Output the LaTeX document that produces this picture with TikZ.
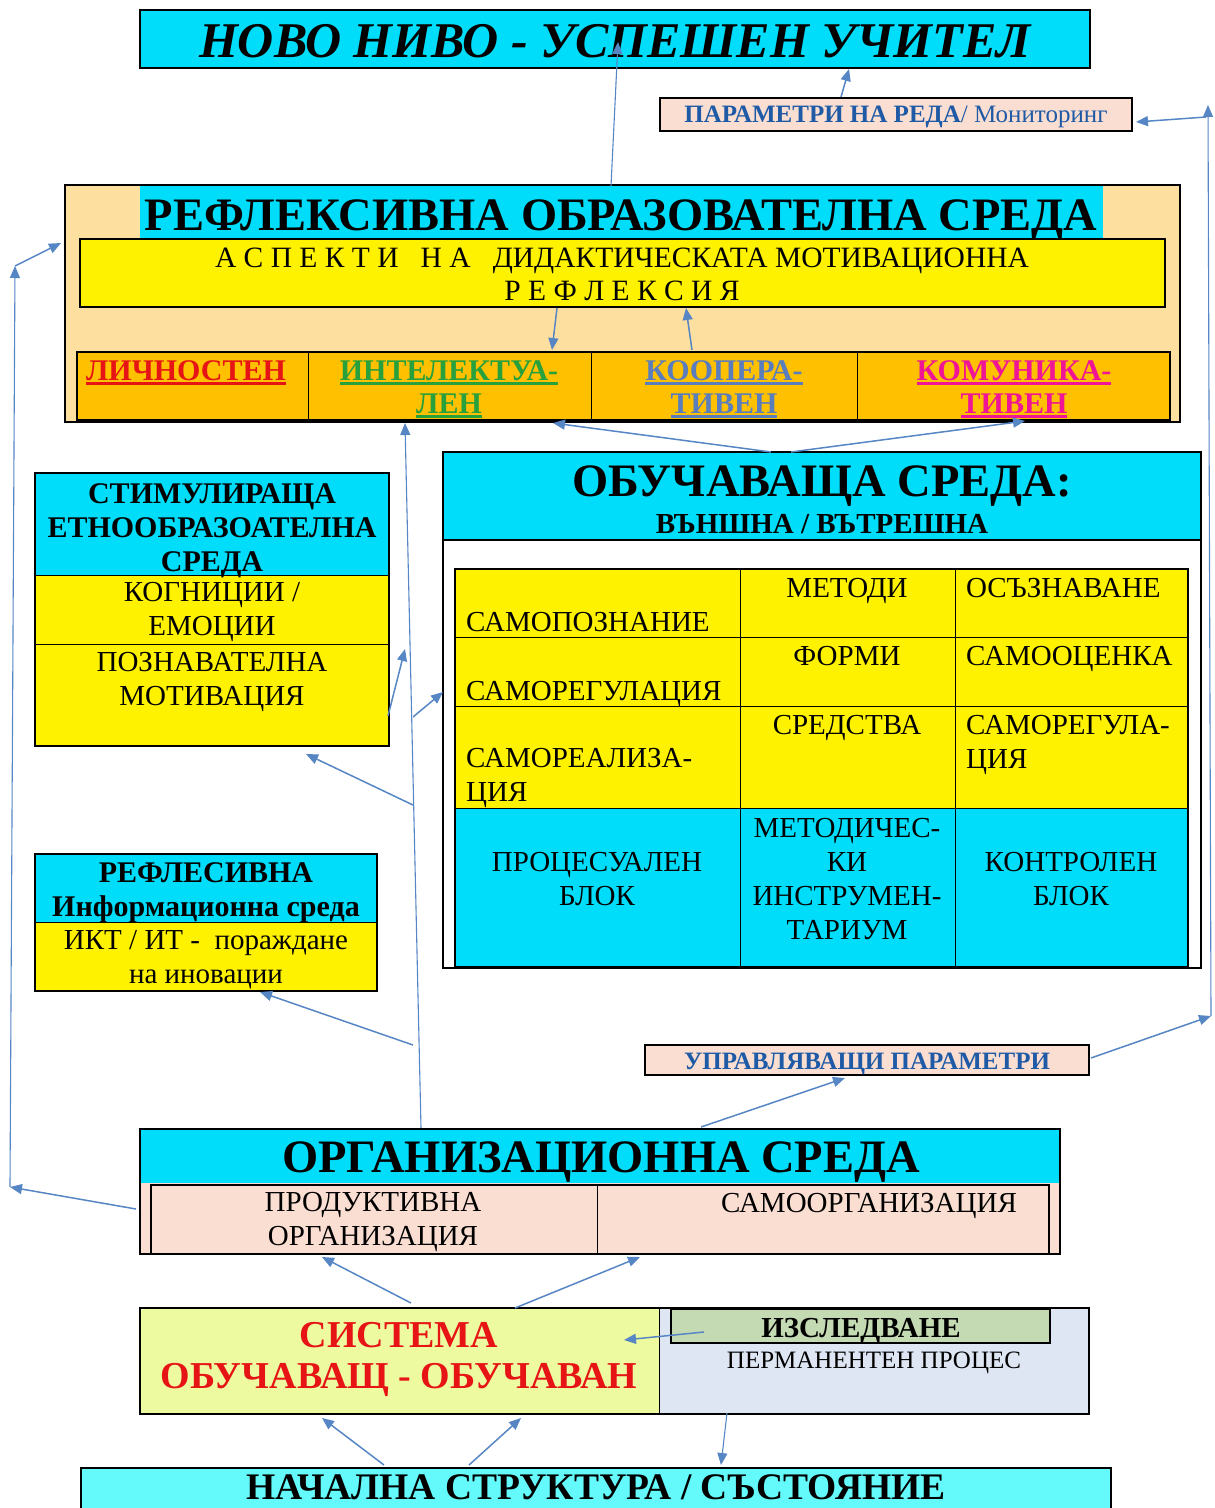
\documentclass[tikz,border=0pt]{standalone}
\usepackage{fontspec}
\setmainfont{Liberation Serif}
\usetikzlibrary{arrows.meta}

\definecolor{cyanA}{RGB}{0,221,250}
\definecolor{cyanB}{RGB}{100,250,252}
\definecolor{wheatbg}{RGB}{253,224,160}
\definecolor{orangerow}{RGB}{255,192,0}
\definecolor{peach}{RGB}{250,222,210}
\definecolor{limebg}{RGB}{238,250,160}
\definecolor{greybl}{RGB}{221,230,242}
\definecolor{sage}{RGB}{196,218,178}
\definecolor{arrowblue}{RGB}{86,134,196}
\definecolor{textblue}{RGB}{30,90,165}
\definecolor{redA}{RGB}{230,20,20}
\definecolor{greenA}{RGB}{40,160,60}
\definecolor{blueA}{RGB}{90,125,190}
\definecolor{magA}{RGB}{240,20,150}

\newcommand{\fs}[2]{\fontsize{#1}{#2}\selectfont}
\newcommand{\undl}[1]{\vtop{\hbox{#1}\kern2pt\hrule height 2.5pt}}

\tikzset{
  box/.style={draw=black, line width=1.2pt},
  thinbox/.style={draw=black, line width=1pt},
  arr/.style={draw=arrowblue, line width=1.5pt, -{Triangle[length=12pt,width=10pt]}},
  longarr/.style={arr, line width=1.1pt},
  lbl/.style={inner sep=0pt, font=\fs{29}{34}},
  lblb/.style={inner sep=0pt, font=\fs{30}{34}\bfseries},
  rowtxt/.style={inner sep=0pt, anchor=north, align=center, font=\fs{30}{33}\bfseries},
  bigttl/.style={inner sep=0pt, anchor=base, font=\fs{46.5}{52}\bfseries}
}

\begin{document}
\begin{tikzpicture}[x=1pt,y=-1pt]
	\useasboundingbox (0,0) rectangle (1215,1508);
	
	% Boxes
	\draw[box, fill=cyanA] (140,10) rectangle (1090,68);
	\draw[box, fill=peach] (660,98) rectangle (1132,131);
	
	\draw[box, fill=wheatbg] (65,185) rectangle (1180,422);
	\fill[cyanA] (140,186) rectangle (1103,238);
	\draw[box, fill=yellow] (80,239) rectangle (1165,307);
	\draw[box, fill=orangerow] (77,352) rectangle (1170,420);
	\foreach \x in {308,591,857}
		\draw[thinbox] (\x,352) -- (\x,420);
	\draw[line width=2.5pt] (77,420.5) -- (1170,420.5);
	
	\draw[box, fill=white] (443,452) rectangle (1201,968);
	\draw[box, fill=cyanA] (443,452) rectangle (1201,540);
	\fill[yellow] (455,569) rectangle (1188,808);
	\fill[cyanA] (455,808) rectangle (1188,967);
	\draw[box] (455,569) rectangle (1188,967);
	\foreach \y in {637,706,808}
		\draw[thinbox] (455,\y) -- (1188,\y);
	\foreach \x in {740,955}
		\draw[thinbox] (\x,569) -- (\x,967);
	
	\fill[cyanA] (35,473) rectangle (389,575);
	\fill[yellow] (35,575) rectangle (389,746);
	\draw[box] (35,473) rectangle (389,746);
	\draw[thinbox] (35,575) -- (389,575);
	\draw[thinbox] (35,644) -- (389,644);
	
	\fill[cyanA] (35,854) rectangle (377,922);
	\fill[yellow] (35,922) rectangle (377,991);
	\draw[box] (35,854) rectangle (377,991);
	\draw[thinbox] (35,922) -- (377,922);
	
	\draw[box, fill=peach] (645,1045) rectangle (1089,1075);
	
	\fill[cyanA] (140,1129) rectangle (1060,1183);
	\fill[peach] (140,1183) rectangle (1060,1254);
	\draw[box] (140,1129) rectangle (1060,1254);
	\draw[box] (151,1185) rectangle (1049,1254);
	\draw[thinbox] (597,1185) -- (597,1254);
	
	\fill[limebg] (140,1308) rectangle (659,1414);
	\fill[greybl] (659,1308) rectangle (1089,1414);
	\draw[box] (140,1308) rectangle (1089,1414);
	\draw[thinbox] (659,1308) -- (659,1414);
	\draw[box, fill=sage] (671,1309) rectangle (1050,1343);
	
	\draw[box, fill=cyanB] (81,1468) rectangle (1111,1520);
	
	% Texts
	\node[inner sep=0pt, anchor=base, font=\fs{50}{56}\bfseries\itshape] (topT) at (615,57) {НОВО НИВО - УСПЕШЕН УЧИТЕЛ};
	\node[inner sep=0pt, anchor=base, text=textblue, font=\fs{25}{28}] (parT) at (896,122) {\bfseries ПАРАМЕТРИ НА РЕДА\mdseries/ Мониторинг};
	
	\node[bigttl] (obrT) at (621,230) {РЕФЛЕКСИВНА ОБРАЗОВАТЕЛНА СРЕДА};
	\node[inner sep=0pt, anchor=north, align=center, font=\fs{29.5}{33}] (aspT) at (622,248) {А С П Е К Т И \ \ Н А \ \ ДИДАКТИЧЕСКАТА МОТИВАЦИОННА\\Р Е Ф Л Е К С И Я};
	\node[rowtxt, text=redA] (lichT) at (186,360) {\undl{ЛИЧНОСТЕН}};
	\node[rowtxt, text=greenA] (intT) at (449,360) {\undl{ИНТЕЛЕКТУА-}\\\undl{ЛЕН}};
	\node[rowtxt, text=blueA] (koopT) at (724,360) {\undl{КООПЕРА-}\\\undl{ТИВЕН}};
	\node[rowtxt, text=magA] (komT) at (1014,360) {\undl{КОМУНИКА-}\\\undl{ТИВЕН}};
	
	\node[bigttl] (obuT) at (822,496) {ОБУЧАВАЩА СРЕДА:};
	\node[inner sep=0pt, anchor=base, font=\fs{29}{33}\bfseries] (obuS) at (822,533) {ВЪНШНА / ВЪТРЕШНА};
	
	\node[lbl, anchor=base west] (c11) at (466,631) {САМОПОЗНАНИЕ};
	\node[lbl, anchor=base] (c12) at (847,597) {МЕТОДИ};
	\node[lbl, anchor=base west] (c13) at (966,597) {ОСЪЗНАВАНЕ};
	\node[lbl, anchor=base west] (c21) at (466,700) {САМОРЕГУЛАЦИЯ};
	\node[lbl, anchor=base] (c22) at (847,665) {ФОРМИ};
	\node[lbl, anchor=base west] (c23) at (966,665) {САМООЦЕНКА};
	\node[lbl, anchor=north west, align=left] (c31) at (466,748) {САМОРЕАЛИЗА-\\ЦИЯ};
	\node[lbl, anchor=base] (c32) at (847,734) {СРЕДСТВА};
	\node[lbl, anchor=north west, align=left] (c33) at (966,715) {САМОРЕГУЛА-\\ЦИЯ};
	\node[lbl, anchor=north, align=center] (c41) at (597,852) {ПРОЦЕСУАЛЕН\\БЛОК};
	\node[lbl, anchor=north, align=center] (c42) at (847,818) {МЕТОДИЧЕС-\\КИ\\ИНСТРУМЕН-\\ТАРИУМ};
	\node[lbl, anchor=north, align=center] (c43) at (1071,852) {КОНТРОЛЕН\\БЛОК};
	
	\node[lblb, anchor=north, align=center] (stimH) at (212,483) {СТИМУЛИРАЩА\\ЕТНООБРАЗОАТЕЛНА\\СРЕДА};
	\node[lbl, anchor=north, align=center] (stimK) at (212,582) {КОГНИЦИИ /\\ЕМОЦИИ};
	\node[lbl, anchor=north, align=center] (stimP) at (212,652) {ПОЗНАВАТЕЛНА\\МОТИВАЦИЯ};
	
	\node[lblb, anchor=north, align=center] (reflH) at (206,862) {РЕФЛЕСИВНА\\Информационна среда};
	\node[lbl, anchor=north, align=center] (iktT) at (206,930) {ИКТ / ИТ -\ \ пораждане\\на иновации};
	
	\node[inner sep=0pt, anchor=base, text=textblue, font=\fs{25}{28}\bfseries] (uprT) at (867,1069) {УПРАВЛЯВАЩИ ПАРАМЕТРИ};
	
	\node[bigttl] (orgT) at (601,1172) {ОРГАНИЗАЦИОННА СРЕДА};
	\node[lbl, anchor=north, align=center] (prodT) at (373,1192) {ПРОДУКТИВНА\\ОРГАНИЗАЦИЯ};
	\node[lbl, anchor=base] (samoT) at (869,1212) {САМООРГАНИЗАЦИЯ};
	
	\node[inner sep=0pt, anchor=north, align=center, text=redA, font=\fs{38}{41}\bfseries] (sysT) at (399,1322) {СИСТЕМА\\ОБУЧАВАЩ - ОБУЧАВАН};
	\node[inner sep=0pt, anchor=base, font=\fs{29}{32}\bfseries] (izsT) at (861,1337) {ИЗСЛЕДВАНЕ};
	\node[inner sep=0pt, anchor=base, font=\fs{25}{28}] (permT) at (874,1368) {ПЕРМАНЕНТЕН ПРОЦЕС};
	
	\node[inner sep=0pt, anchor=base, font=\fs{37.5}{42}\bfseries] (nachT) at (596,1499) {НАЧАЛНА СТРУКТУРА / СЪСТОЯНИЕ};
	
	% Points
	\coordinate (obrUp) at (611,186);
	\coordinate (topIn) at (618,42);
	\coordinate (parUp) at (841,97);
	\coordinate (topB) at (849,69);
	\coordinate (uprR) at (1091,1058);
	\coordinate (rLow) at (1211,1016);
	\coordinate (rTop) at (1208,105);
	\coordinate (rMid) at (1206,117);
	\coordinate (parR) at (1136,122);
	\coordinate (orgL) at (136,1209);
	\coordinate (lLow) at (10,1187);
	\coordinate (lTop) at (15,266);
	\coordinate (obrL) at (61,243);
	\coordinate (orgUp) at (421,1128);
	\coordinate (intB) at (405,423);
	\coordinate (obuUp1) at (771,452);
	\coordinate (obuUp2) at (791,452);
	\coordinate (koopB) at (553,423);
	\coordinate (komB) at (1025,421);
	\coordinate (aspB1) at (557,308);
	\coordinate (rowT1) at (552,350);
	\coordinate (rowT2) at (692,350);
	\coordinate (aspB2) at (686,308);
	\coordinate (stimR) at (388,716);
	\coordinate (vMid) at (405,649);
	\coordinate (vA) at (413,717);
	\coordinate (obuL) at (443,692);
	\coordinate (vB) at (413,805);
	\coordinate (stimB) at (306,754);
	\coordinate (vC) at (413,1045);
	\coordinate (iktB) at (260,992);
	\coordinate (orgUp2) at (701,1127);
	\coordinate (uprB) at (845,1078);
	\coordinate (sysUp1) at (411,1303);
	\coordinate (orgB1) at (322,1257);
	\coordinate (sysUp2) at (515,1308);
	\coordinate (orgB2) at (640,1257);
	\coordinate (izsL) at (704,1332);
	\coordinate (sysIn) at (624,1340);
	\coordinate (nachUp1) at (384,1465);
	\coordinate (sysB1) at (322,1418);
	\coordinate (nachUp2) at (469,1465);
	\coordinate (sysB2) at (521,1418);
	\coordinate (sysB3) at (727,1413);
	\coordinate (nachUp3) at (721,1465);
	
	% Arrows
	\draw[longarr] (obrUp) -- (topIn);
	\draw[arr] (parUp) -- (topB);
	\draw[arr] (uprR) -- (rLow);
	\draw[longarr] (rLow) -- (rTop);
	\draw[arr] (rMid) -- (parR);
	\draw[arr] (orgL) -- (lLow);
	\draw[longarr] (lLow) -- (lTop);
	\draw[arr] (lTop) -- (obrL);
	\draw[longarr] (orgUp) -- (intB);
	\draw[arr] (obuUp1) -- (koopB);
	\draw[arr] (obuUp2) -- (komB);
	\draw[arr] (aspB1) -- (rowT1);
	\draw[arr] (rowT2) -- (aspB2);
	\draw[arr] (stimR) -- (vMid);
	\draw[arr] (vA) -- (obuL);
	\draw[arr] (vB) -- (stimB);
	\draw[arr] (vC) -- (iktB);
	\draw[arr] (orgUp2) -- (uprB);
	\draw[arr] (sysUp1) -- (orgB1);
	\draw[arr] (sysUp2) -- (orgB2);
	\draw[arr] (izsL) -- (sysIn);
	\draw[arr] (nachUp1) -- (sysB1);
	\draw[arr] (nachUp2) -- (sysB2);
	\draw[longarr] (sysB3) -- (nachUp3);
\end{tikzpicture}
\end{document}
